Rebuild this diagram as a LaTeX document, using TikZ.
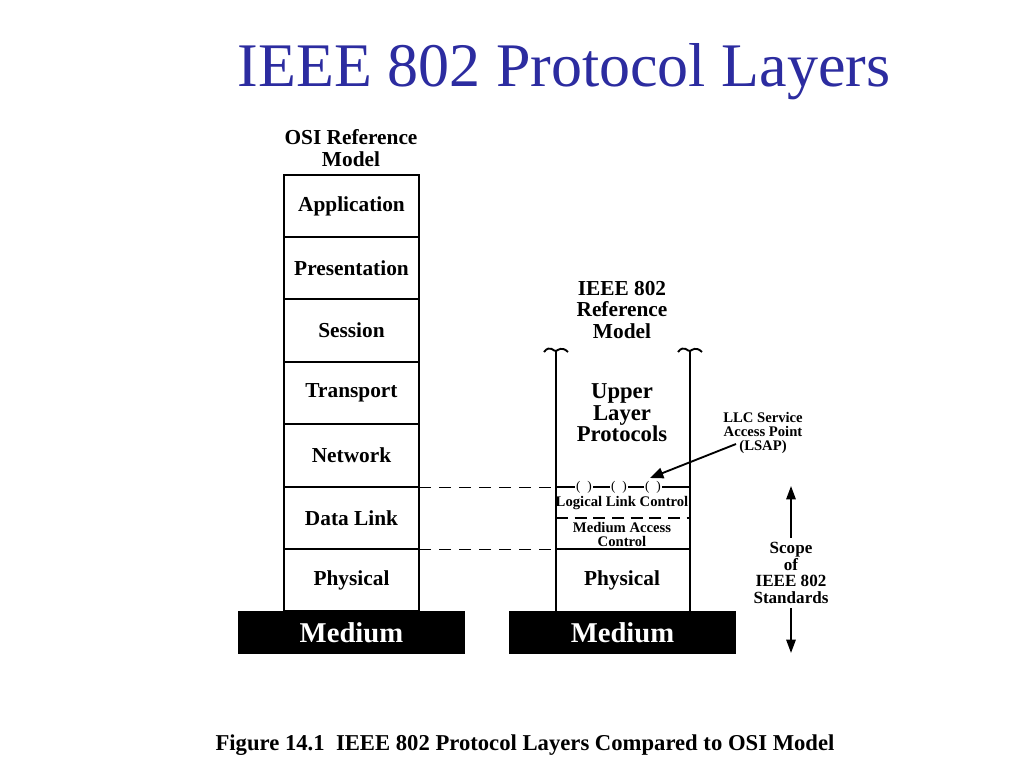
\documentclass[tikz,border=0pt]{standalone}
\usepackage{fontspec}
\setmainfont{Liberation Serif}
\usetikzlibrary{arrows.meta}
\definecolor{titleblue}{RGB}{44,44,160}
\begin{document}
\begin{tikzpicture}[x=0.75pt,y=-0.75pt,
  lay/.style={font=\bfseries\fontsize{16}{16}\selectfont},
  sm/.style={font=\bfseries\fontsize{11}{10.5}\selectfont,align=center},
  med/.style={fill=black,text=white,font=\bfseries\fontsize{21.5}{22}\selectfont},
  ln/.style={line width=1.4pt}]
\useasboundingbox (0,0) rectangle (1024,768);
\node[text=titleblue,font=\fontsize{46.5}{48}\selectfont] (title) at (564,72) {IEEE 802 Protocol Layers};
\node[lay,align=center] (osih) at (351,148) {OSI Reference\\Model};
\foreach \n/\t/\a/\b in {app/Application/175/237,pre/Presentation/237/299,ses/Session/299/362,tra/Transport/362/424,net/Network/424/487,dl/Data Link/487/549,phy/Physical/549/611}{
  \draw[ln] (284,\a) rectangle (419,\b);
  \node[lay] (\n) at (351.5,{(\a+\b)/2}) {\t};
}
\node[med,minimum width=227*0.75pt,minimum height=43*0.75pt,inner sep=0] (m1) at (351.5,632.5) {Medium};
\node[med,minimum width=227*0.75pt,minimum height=43*0.75pt,inner sep=0] (m2) at (622.5,632.5) {Medium};
\node[lay,align=center,font=\bfseries\fontsize{16}{16}\selectfont] (ieh) at (622,310) {IEEE 802\\Reference\\Model};
\draw[ln] (556,351) -- (556,611) (690,351) -- (690,611);
\draw[ln] (544,352) .. controls (550,344) and (554,352) .. (556,351) .. controls (558,350) and (562,346) .. (568,352);
\draw[ln] (678,352) .. controls (684,344) and (688,352) .. (690,351) .. controls (692,350) and (696,346) .. (702,352);
\node[align=center,font=\bfseries\fontsize{17}{16}\selectfont] (ulp) at (622,413) {Upper\\Layer\\Protocols};
\draw[ln] (556,487) -- (690,487) (556,549) -- (690,549);
\foreach \x in {584,619,653}{\node[fill=white,inner sep=1pt,font=\fontsize{10}{10}\selectfont] at (\x,487) {(\,\,\,)};}
\coordinate (lsap) at (650,478);
\draw[ln,dashed,dash pattern=on 9pt off 5pt] (556,518) -- (690,518);
\node[sm] (llc) at (622,503) {Logical Link Control};
\node[sm] (mac) at (622,534) {Medium Access\\Control};
\node[lay] (phy2) at (622,580) {Physical};
\draw[dashed,dash pattern=on 9pt off 6pt] (419,487) -- (556,487) (419,549) -- (556,549);
\node[sm] (llcs) at (763,433) {LLC Service\\Access Point\\(LSAP)};
\draw[ln,-{Triangle[length=10pt,width=8pt]}] (736,444) -- (lsap);
\node[sm,font=\bfseries\fontsize{12.8}{12.5}\selectfont] (scope) at (791,573) {Scope\\of\\IEEE 802\\Standards};
\draw[ln,-{Triangle[length=10pt,width=7pt]}] (scope.north) -- (791,486);
\draw[ln,-{Triangle[length=10pt,width=7pt]}] (scope.south) -- (791,653);
\node[font=\bfseries\fontsize{17}{18}\selectfont] (cap) at (525,745) {Figure 14.1\ \ IEEE 802 Protocol Layers Compared to OSI Model};
\end{tikzpicture}
\end{document}
